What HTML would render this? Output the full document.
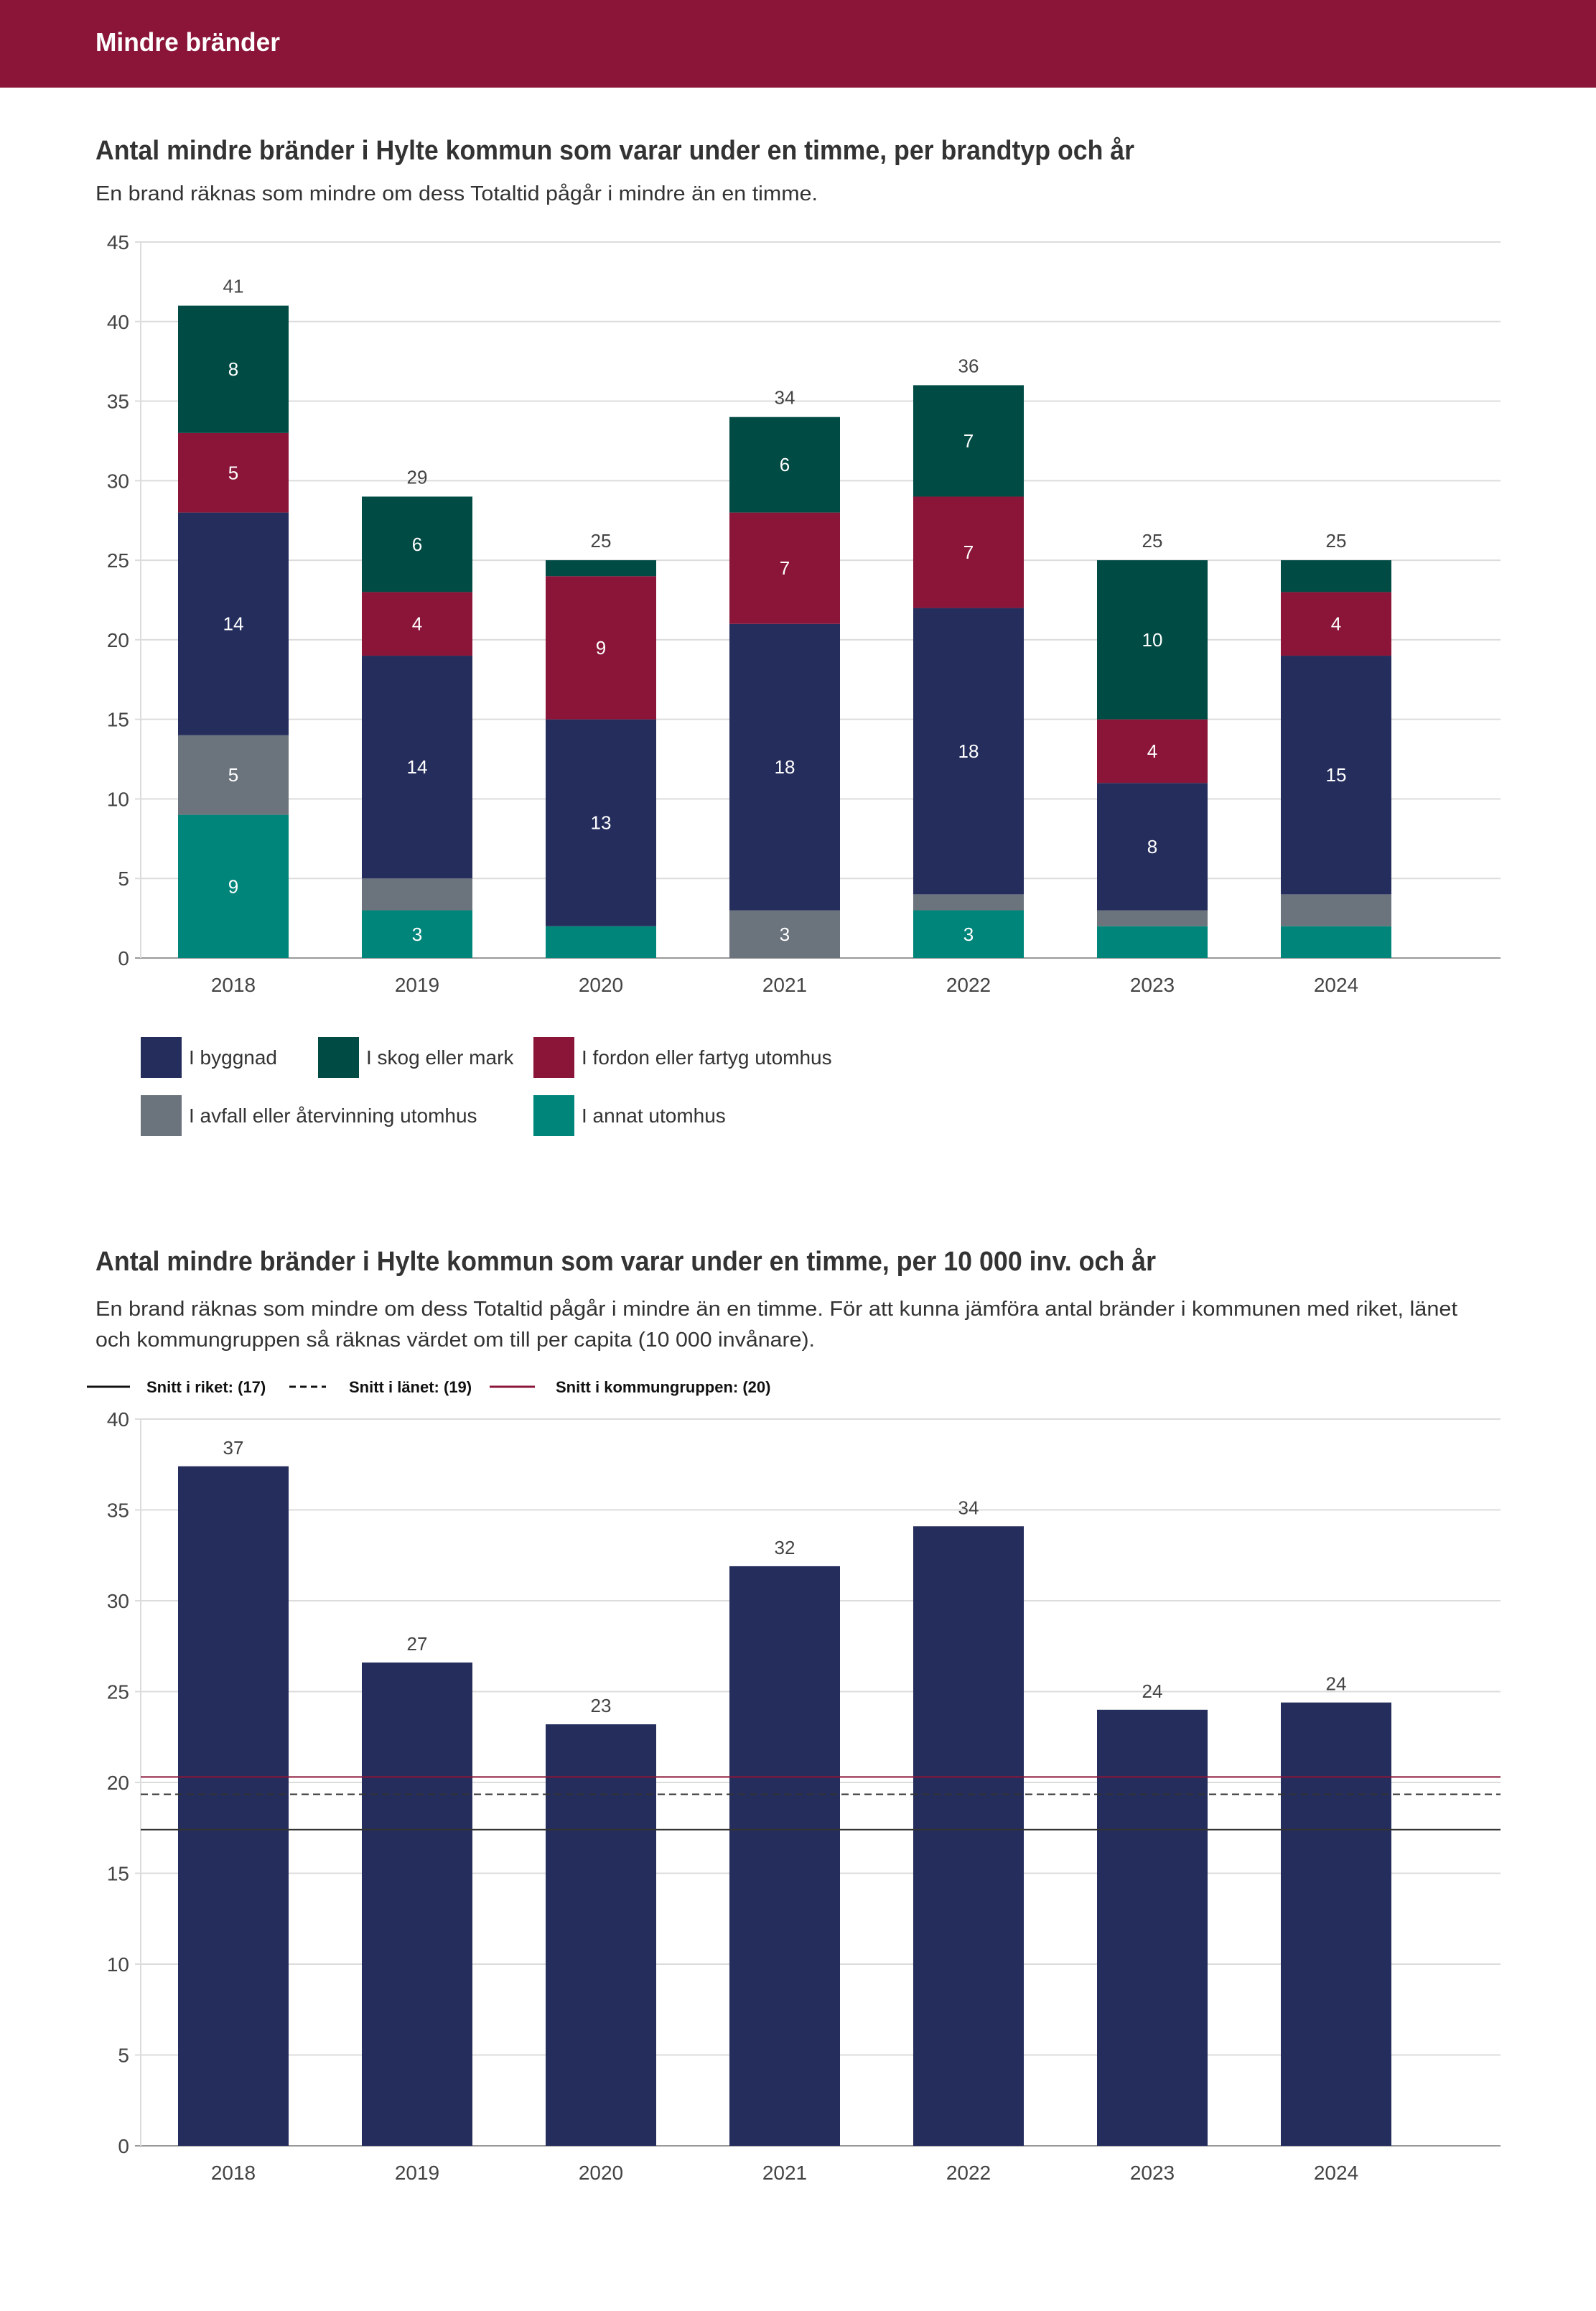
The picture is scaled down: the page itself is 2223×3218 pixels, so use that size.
<!DOCTYPE html>
<html><head><meta charset="utf-8"><style>
html,body{margin:0;padding:0;background:#fff}
svg text{font-family:"Liberation Sans",sans-serif}
</style></head><body>
<svg id="page" width="2223" height="3213" viewBox="0 0 2223 3213" xmlns="http://www.w3.org/2000/svg">
<rect x="0" y="0" width="2223" height="122" fill="#8a1538"/>
<text x="133" y="71" fill="#fff" font-size="36" font-weight="bold" textLength="257" lengthAdjust="spacingAndGlyphs">Mindre bränder</text>
<text x="133" y="222" fill="#333" font-size="38" font-weight="bold" textLength="1447" lengthAdjust="spacingAndGlyphs">Antal mindre bränder i Hylte kommun som varar under en timme, per brandtyp och år</text>
<text x="133" y="279" fill="#333" font-size="29" textLength="1006" lengthAdjust="spacingAndGlyphs">En brand räknas som mindre om dess Totaltid pågår i mindre än en timme.</text>
<g id="c1"></g>
<g id="leg1"></g>
<text x="133" y="1769" fill="#333" font-size="38" font-weight="bold" textLength="1477" lengthAdjust="spacingAndGlyphs">Antal mindre bränder i Hylte kommun som varar under en timme, per 10 000 inv. och år</text>
<text x="133" y="1832" fill="#333" font-size="29" textLength="1897" lengthAdjust="spacingAndGlyphs">En brand räknas som mindre om dess Totaltid pågår i mindre än en timme. För att kunna jämföra antal bränder i kommunen med riket, länet</text>
<text x="133" y="1875" fill="#333" font-size="29" textLength="1002" lengthAdjust="spacingAndGlyphs">och kommungruppen så räknas värdet om till per capita (10 000 invånare).</text>
<g id="leg2"></g>
<g id="c2"></g>
</svg>
<script>
const years = ["2018","2019","2020","2021","2022","2023","2024"];
const seriesNames = ["I annat utomhus","I avfall eller återvinning utomhus","I byggnad","I fordon eller fartyg utomhus","I skog eller mark"];
const annat   = [9,3,2,0,3,2,2];
const avfall  = [5,2,0,3,1,1,2];
const byggnad = [14,14,13,18,18,8,15];
const fordon  = [5,4,9,7,7,4,4];
const skog    = [8,6,1,6,7,10,2];
const ticks1 = [0,5,10,15,20,25,30,35,40,45];
const perCapita = [37.4,26.6,23.2,31.9,34.1,24.0,24.4];
const perCapitaLabels = ["37","27","23","32","34","24","24"];
const ticks2 = [0,5,10,15,20,25,30,35,40];
const avgRiket = 17.4, avgLanet = 19.35, avgGrupp = 20.3;
const avgLabels = ["Snitt i riket: (17)","Snitt i länet: (19)","Snitt i kommungruppen: (20)"];

const NS="http://www.w3.org/2000/svg";
function mk(parent,tag,attrs,text){const e=document.createElementNS(NS,tag);for(const k in attrs)e.setAttribute(k,attrs[k]);if(text!==undefined)e.textContent=text;parent.appendChild(e);return e;}
const colors=["#00857a","#6b737c","#252d5c","#8a1538","#004b44"];
const plotL=196, plotR=2090, step=256, first=325, bw=154;
const xc=i=>first+i*step;

// Chart 1
const c1=document.getElementById('c1');
const y1=v=>1334-(v/45)*(1334-337);
ticks1.forEach(t=>{
  const l=mk(c1,'line',{x1:plotL-8,x2:plotR,y1:y1(t),y2:y1(t),stroke:t===0?'#999':'#dcdcdc','stroke-width':2});
  
  
  const tx=mk(c1,'text',{x:180,y:y1(t)+10,'text-anchor':'end','font-size':28,fill:'#444'},String(t));
  
  
});
mk(c1,'line',{x1:plotL,x2:plotL,y1:337,y2:1334,stroke:'#dcdcdc','stroke-width':2});
const series=[annat,avfall,byggnad,fordon,skog];
years.forEach((yr,i)=>{
  let acc=0;
  series.forEach((s,k)=>{
    const v=s[i]; if(v<=0) return;
    const r=mk(c1,'rect',{x:xc(i)-bw/2,y:y1(acc+v),width:bw,height:y1(acc)-y1(acc+v),fill:colors[k]});
    
    
    if(v>=3){
      const t=mk(c1,'text',{x:xc(i),y:(y1(acc)+y1(acc+v))/2+9,'text-anchor':'middle','font-size':26,fill:'#fff'},String(v));
      
      
    }
    acc+=v;
  });
  const tt=mk(c1,'text',{x:xc(i),y:y1(acc)-18,'text-anchor':'middle','font-size':26,fill:'#444'},String(acc));
  
  
  const xl=mk(c1,'text',{x:xc(i),y:1381,'text-anchor':'middle','font-size':28,fill:'#444'},yr);
  
  
});
// legend 1
const leg1=document.getElementById('leg1');
const legItems=[[2,196,1444],[4,443,1444],[3,743,1444],[1,196,1525],[0,743,1525]];
legItems.forEach(([k,x,y])=>{
  const g=mk(leg1,'g',{});
  
  
  mk(g,'rect',{x:x,y:y,width:57,height:57,fill:colors[k]});
  mk(g,'text',{x:x+67,y:y+38,'font-size':28,fill:'#333'},seriesNames[k]);
});

// legend 2
const leg2=document.getElementById('leg2');
const l2=[[121,181,'#111','none',204],[403,454,'#111','9 6',486],[682,745,'#8a1538','none',774]];
l2.forEach((d,i)=>{
  const g=mk(leg2,'g',{});
  
  
  mk(g,'line',{x1:d[0],x2:d[1],y1:1931,y2:1931,stroke:d[2],'stroke-width':3,'stroke-dasharray':d[3]});
  mk(g,'text',{x:d[4],y:1939,'font-size':22,'font-weight':'bold',fill:'#111'},avgLabels[i]);
});

// Chart 2
const c2=document.getElementById('c2');
const y2=v=>2988-(v/40)*(2988-1976);
ticks2.forEach(t=>{
  const l=mk(c2,'line',{x1:plotL-8,x2:plotR,y1:y2(t),y2:y2(t),stroke:t===0?'#999':'#dcdcdc','stroke-width':2});
  
  
  const tx=mk(c2,'text',{x:180,y:y2(t)+10,'text-anchor':'end','font-size':28,fill:'#444'},String(t));
  
  
});
mk(c2,'line',{x1:plotL,x2:plotL,y1:1976,y2:2988,stroke:'#dcdcdc','stroke-width':2});
years.forEach((yr,i)=>{
  const v=perCapita[i];
  const r=mk(c2,'rect',{x:xc(i)-bw/2,y:y2(v),width:bw,height:y2(0)-y2(v),fill:'#252d5c'});
  
  
  const t=mk(c2,'text',{x:xc(i),y:y2(v)-17,'text-anchor':'middle','font-size':26,fill:'#444'},perCapitaLabels[i]);
  
  
  const xl=mk(c2,'text',{x:xc(i),y:3035,'text-anchor':'middle','font-size':28,fill:'#444'},yr);
  
  
});
const a1=mk(c2,'line',{x1:plotL,x2:plotR,y1:y2(avgRiket),y2:y2(avgRiket),stroke:'#333','stroke-width':2});


const a2=mk(c2,'line',{x1:plotL,x2:plotR,y1:y2(avgLanet),y2:y2(avgLanet),stroke:'#333','stroke-width':2,'stroke-dasharray':'10 6'});


const a3=mk(c2,'line',{x1:plotL,x2:plotR,y1:y2(avgGrupp),y2:y2(avgGrupp),stroke:'#8a1538','stroke-width':2});


</script>
</body></html>
